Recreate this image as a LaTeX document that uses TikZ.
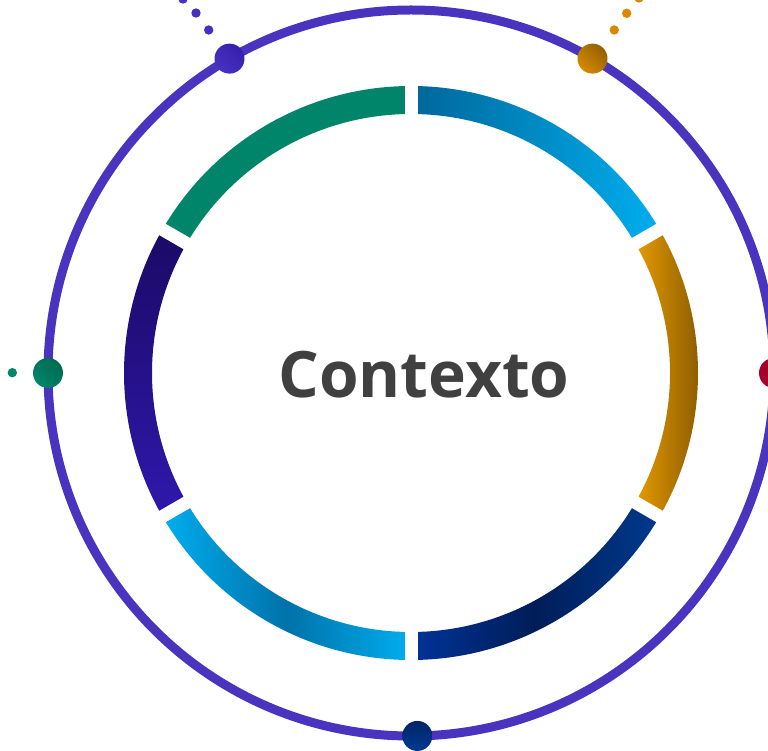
\documentclass[tikz,border=0pt]{standalone}
\usepackage{fontspec}
\setmainfont{Open Sans}
\usetikzlibrary{calc}
\definecolor{ring}{HTML}{4A33BF}
\definecolor{segGreen}{HTML}{00856A}
\definecolor{tgray}{HTML}{404041}
\definecolor{bluA}{HTML}{006699}
\definecolor{bluB}{HTML}{00AEEF}
\definecolor{bluM}{HTML}{0072AA}
\definecolor{orA}{HTML}{E69A00}
\definecolor{orB}{HTML}{7D5200}
\definecolor{navA}{HTML}{003399}
\definecolor{navM}{HTML}{001D58}
\definecolor{navB}{HTML}{003A8E}
\definecolor{purA}{HTML}{1B0A66}
\definecolor{purB}{HTML}{2F18AB}
\definecolor{dotPur}{HTML}{3620AA}
\definecolor{dotPurL}{HTML}{4630C0}
\definecolor{dotOrD}{HTML}{956000}
\definecolor{dotOrL}{HTML}{D58A00}
\definecolor{dotGrD}{HTML}{006A52}
\definecolor{dotGrL}{HTML}{00856A}
\definecolor{dotRed}{HTML}{A6002A}
\definecolor{dotNavD}{HTML}{002566}
\definecolor{dotNavL}{HTML}{003A95}
\tikzset{
  seg/.style={draw=none},
  gapline/.style={draw=white, line width=13pt, line cap=butt},
  bigdot/.style={circle, minimum size=30pt, inner sep=0pt, draw=none},
  smalldot/.style={circle, minimum size=9.4pt, inner sep=0pt, draw=none}
}
\newcommand{\mysector}[3]{%
  \path[seg,#3] ($(C)+(#1:287)$) arc[start angle=#1, end angle=#2, radius=287] -- ($(C)+(#2:259)$) arc[start angle=#2, end angle=#1, radius=259] -- cycle;}
\begin{document}
\begin{tikzpicture}[x=1pt,y=1pt]
\useasboundingbox (0,0) rectangle (768,750);
\coordinate (C) at (411,377);
% outer ring
\draw[ring, line width=9pt] (C) circle[radius=363];
% inner segments
\mysector{90}{150}{fill=segGreen}
\mysector{30}{90}{left color=bluA, right color=bluB}
\mysector{-30}{30}{left color=orA, right color=orB}
\mysector{-90}{-30}{left color=navA, right color=navB, middle color=navM}
\mysector{-150}{-90}{left color=bluB, right color=bluB, middle color=bluM}
\mysector{150}{210}{top color=purA, bottom color=purB}
% gaps
\foreach \a in {90,30,-30,-90,-150,150}
  \draw[gapline] ($(C)+(\a:245)$) -- ($(C)+(\a:300)$);
% big dots on ring
\node[bigdot, left color=dotPurL, right color=dotPur, shading angle=135] (dpur) at ($(C)+(120:363)$) {};
\node[bigdot, left color=dotOrL, right color=dotOrD, shading angle=135] (dor) at ($(C)+(60:363)$) {};
\node[bigdot, left color=dotGrL, right color=dotGrD, shading angle=135] (dgr) at ($(C)+(180:363)$) {};
\node[bigdot, fill=dotRed] (dred) at ($(C)+(0:363)$) {};
\node[bigdot, top color=dotNavD, bottom color=dotNavL] (dnav) at ($(C)+(-89:363)$) {};
% trails
\node[smalldot, fill=dotPurL] (p1) at (208.7,720) {};
\node[smalldot, fill=dotPurL] (p2) at (196,737) {};
\node[smalldot, fill=dotPurL] (p3) at (183,751) {};
\node[smalldot, fill=dotOrL] (o1) at (614.3,720) {};
\node[smalldot, fill=dotOrL] (o2) at (626.7,736.7) {};
\node[smalldot, fill=dotOrL] (o3) at (639,752) {};
\node[smalldot, fill=dotGrL] (g1) at (12.3,377.3) {};
% title
\node[font=\bfseries\fontsize{64}{70}\selectfont, text=tgray, anchor=base, inner sep=0pt] (title) at (424,352) {Contexto};
\end{tikzpicture}
\end{document}
